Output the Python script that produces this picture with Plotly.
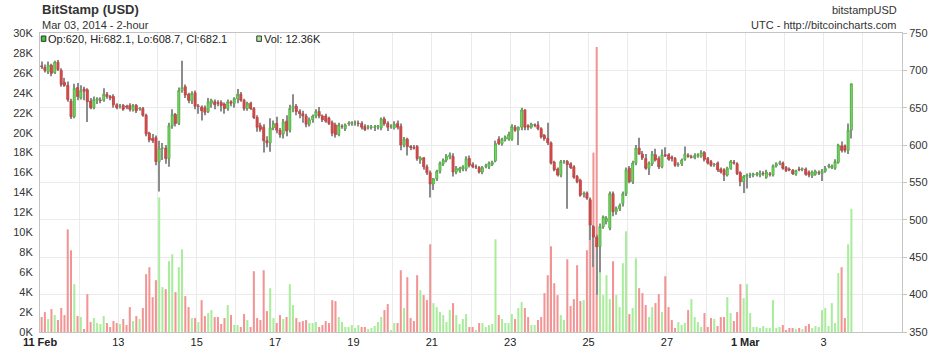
import pandas as pd
import plotly.graph_objects as go

# ---------------- data (2-hour candles, BitStamp USD, 11 Feb - 3 Mar 2014) ----------------
open_ = [
    706,704,698,707,697,711,700,684,680,659,638,677,
    663,675,674,659,650,660,660,660,668,665,665,654,
    652,653,652,653,647,653,649,649,640,616,609,610,
    578,596,596,582,626,641,629,673,678,668,659,670,
    652,651,650,645,656,658,657,657,655,649,658,656,
    662,668,660,649,656,649,637,626,624,606,603,623,
    629,620,615,632,620,649,652,645,642,639,628,634,
    639,645,639,639,636,630,627,614,625,622,629,629,
    630,629,629,625,624,624,624,624,623,635,629,625,
    623,629,625,600,608,598,597,598,580,583,571,563,
    548,555,565,575,580,584,585,564,566,568,568,582,
    574,571,570,564,572,571,574,579,608,602,608,608,
    608,624,620,624,647,626,624,627,627,622,613,609,
    603,577,568,560,578,578,575,571,558,553,535,536,
    527,491,477,464,491,498,489,535,511,515,522,535,
    569,551,576,596,588,582,569,575,587,582,571,587,
    587,584,582,574,575,581,586,584,583,586,585,590,
    582,578,574,576,568,567,560,569,577,575,563,551,
    558,560,560,561,560,562,557,561,560,572,576,576,
    570,568,566,561,568,568,568,564,559,561,563,562,
    565,572,570,569,577,599,599,593,620,
]
high = [
    712,708,712,709,713,714,703,690,685,662,682,683,
    680,678,676,663,665,664,664,676,671,667,668,656,
    655,655,654,656,655,655,651,651,642,618,615,613,
    606,603,600,630,648,643,677,713,681,670,672,673,
    655,653,653,663,662,661,660,660,657,661,660,664,
    675,671,662,658,658,651,640,630,628,612,636,633,
    638,623,635,640,654,668,655,648,646,642,637,641,
    648,651,641,642,638,633,630,630,628,629,632,632,
    633,633,632,628,627,627,627,627,637,638,632,628,
    632,633,629,611,610,600,600,600,585,584,574,566,
    556,567,578,582,588,590,589,572,571,573,585,586,
    577,574,572,572,575,578,579,606,612,610,613,618,
    628,627,625,650,648,628,630,629,632,624,615,630,
    605,579,570,580,580,580,577,573,560,555,538,538,
    530,493,480,495,506,505,538,538,518,522,538,570,
    572,579,600,610,592,588,578,592,595,585,594,597,
    589,586,584,577,582,598,589,587,589,589,593,592,
    584,580,576,578,570,569,571,580,580,577,565,560,
    562,563,563,564,566,565,567,564,574,577,579,578,
    572,570,568,567,571,570,570,566,566,567,566,568,
    572,575,574,581,602,605,601,629,682.1,
]
low = [
    702,697,695,692,695,699,678,678,658,635,636,660,
    661,660,631,648,648,655,656,658,662,660,650,648,
    649,646,648,645,645,643,646,638,612,604,603,573,
    538,580,575,571,622,625,627,670,663,656,655,648,
    642,633,640,643,650,648,652,645,642,646,652,650,
    656,658,646,646,647,635,618,618,590,597,591,620,
    616,610,609,612,617,644,640,636,630,624,625,630,
    636,636,631,630,627,612,610,612,622,619,626,626,
    626,625,621,619,621,621,619,621,620,626,619,622,
    621,621,593,597,586,593,594,579,575,567,560,530,
    540,552,562,572,577,581,558,561,563,565,565,570,
    569,568,562,561,569,568,572,577,600,599,605,606,
    606,618,600,620,620,620,622,624,620,609,606,600,
    574,565,558,557,575,515,568,555,549,531,530,527,
    473,437,400,430,488,494,486,505,507,512,518,532,
    549,548,573,587,580,567,560,572,578,568,569,584,
    579,578,571,571,572,579,583,582,581,583,583,578,
    574,571,571,564,562,552,558,567,574,560,545,536,
    542,556,557,558,557,559,555,558,558,570,573,567,
    564,565,560,559,565,565,559,557,556,559,560,552,
    563,569,568,567,575,590,590,588,608.7,
]
close = [
    705,700,707,696,711,701,681,680,661,638,676,665,
    673,672,658,650,661,662,660,668,665,663,654,650,
    652,648,651,648,653,646,649,640,615,607,606,578,
    596,596,582,626,641,629,673,677,667,660,669,652,
    652,646,644,658,660,654,656,653,649,658,656,662,
    668,660,649,656,649,637,624,621,606,603,623,629,
    620,614,631,619,649,652,645,642,639,628,634,639,
    645,639,634,632,629,616,614,627,625,627,629,630,
    630,629,624,621,624,624,624,625,635,629,624,625,
    628,624,600,608,598,597,596,582,583,571,563,548,
    555,565,576,580,585,587,564,569,569,571,582,573,
    571,571,564,570,572,576,577,602,602,608,611,614,
    625,620,624,647,624,624,628,627,622,611,609,603,
    576,567,560,578,578,574,570,557,551,533,535,529,
    493,477,464,491,504,502,535,511,515,519,535,567,
    551,576,596,588,583,569,576,588,580,571,587,586,
    581,582,573,574,580,588,585,584,586,587,590,581,
    576,573,574,567,564,560,569,578,576,562,551,558,
    560,560,561,561,563,562,564,561,572,575,576,569,
    566,567,562,566,567,568,561,560,564,565,563,565,
    569,572,572,578,600,593,593,620,682.1,
]
volume_k = [
    1.5,2.0,1.3,2.3,1.7,1.2,2.4,1.7,10.3,8.2,4.8,1.6,
    1.5,0.3,3.8,1.0,1.4,0.9,0.8,1.6,0.9,0.5,1.1,0.9,
    0.8,1.3,0.7,2.5,1.1,1.6,1.3,2.4,5.8,6.5,3.5,5.2,
    13.5,4.5,4.3,7.1,7.8,4.0,6.5,8.3,3.6,2.5,1.4,1.4,
    1.0,3.2,1.6,1.9,2.2,1.5,1.5,0.8,1.4,2.7,1.7,0.7,
    0.7,0.5,1.8,1.2,0.5,6.1,1.4,1.2,6.2,2.1,4.4,1.4,
    0.9,1.7,1.3,1.5,4.8,2.7,1.4,1.0,1.1,1.2,0.9,0.9,
    1.0,0.5,0.7,1.1,0.9,3.2,3.1,1.5,1.0,0.5,0.5,0.7,
    0.4,0.7,0.5,0.5,0.3,0.4,0.6,1.0,1.5,2.2,2.8,0.2,
    0.9,0.9,6.2,2.4,5.5,1.4,1.1,5.7,4.2,3.7,3.2,8.8,
    2.9,2.5,2.0,1.7,1.0,2.2,2.9,1.7,0.8,1.3,1.8,0.5,
    0.5,0.2,0.9,0.9,0.5,0.7,0.8,9.3,1.7,1.3,0.9,0.9,
    1.8,1.3,2.4,3.0,2.4,1.5,0.7,0.7,1.2,1.5,3.9,5.7,
    8.6,4.9,3.7,1.7,1.2,7.3,2.6,3.3,6.7,3.1,3.2,8.2,
    9.3,18.0,28.6,8.6,3.7,5.7,3.3,7.1,3.7,2.5,6.9,10.1,
    1.8,2.4,7.4,4.4,3.9,2.7,1.5,2.5,2.9,3.8,2.0,5.6,
    2.5,1.2,0.4,1.0,0.7,0.9,2.2,3.3,1.5,1.0,0.5,1.9,
    0.5,1.4,1.3,0.6,1.5,1.5,3.5,1.9,1.1,2.0,4.8,3.4,
    4.8,1.9,0.5,0.5,0.4,0.6,0.4,0.4,3.2,0.4,0.5,0.7,
    0.2,0.4,0.4,0.3,0.4,0.3,0.6,0.8,0.4,0.6,0.5,2.2,
    2.4,0.6,2.9,0.9,5.9,6.5,1.4,8.8,12.36,
]

tick_dates = ["2014-02-11", "2014-02-13", "2014-02-15", "2014-02-17", "2014-02-19",
              "2014-02-21", "2014-02-23", "2014-02-25", "2014-02-27", "2014-03-01", "2014-03-03"]
tick_text = ["<b>11 Feb</b>", "13", "15", "17", "19", "21", "23", "25", "27", "<b>1 Mar</b>", "3"]
vol_ticks = list(range(0, 31, 2))
vol_tick_text = [f"{v}K" for v in vol_ticks]
price_ticks = list(range(350, 751, 50))

# candle centre times (each 2-hour period, centred)
times = pd.date_range("2014-02-11 01:00", periods=len(close), freq="2h")

GREEN_BODY, GREEN_EDGE = "#72d463", "#52b043"
RED_BODY, RED_EDGE = "#d44a4a", "#c24646"
VOL_GREEN, VOL_RED = "#a9ec9b", "#f29494"
WICK = "#8c8c8c"
GRID = "#ebebeb"
FRAME = "#c4c4c4"

rising = [c >= o for o, c in zip(open_, close)]
vol_colors = [VOL_GREEN if r else VOL_RED for r in rising]
body_top = [max(o, c) for o, c in zip(open_, close)]
body_bot = [min(o, c) for o, c in zip(open_, close)]
wick_len = [h - l for h, l in zip(high, low)]

TWO_H = 2 * 3600 * 1000

fig = go.Figure()
fig.add_trace(go.Bar(
    x=times, y=volume_k, yaxis="y", marker=dict(color=vol_colors, line=dict(width=0)),
    width=TWO_H * 0.62, hoverinfo="skip", name="Vol",
))
fig.add_trace(go.Bar(
    x=times, y=wick_len, base=low, yaxis="y2", marker=dict(color=WICK, line=dict(width=0)),
    width=TWO_H * 0.32, hoverinfo="skip", name="range",
))
fig.add_trace(go.Candlestick(
    x=times, open=open_, high=body_top, low=body_bot, close=close, yaxis="y2",
    increasing=dict(fillcolor=GREEN_BODY, line=dict(color=GREEN_EDGE, width=0.8)),
    decreasing=dict(fillcolor=RED_BODY, line=dict(color=RED_EDGE, width=0.8)),
    whiskerwidth=0, name="price",
))

FONT = "Liberation Sans, Arial, Helvetica, sans-serif"

last = len(close) - 1
ohlc_text = f"Op:{open_[last]:g}, Hi:{high[last]:g}, Lo:{low[last]:g}, Cl:{close[last]:g}"
vol_text = f"Vol: {volume_k[last]:g}K"

annotations = [
    dict(text="<b>BitStamp (USD)</b>", x=0, y=1.077, xref="paper", yref="paper",
         xanchor="left", yanchor="middle", showarrow=False, font=dict(size=13, color="#333")),
    dict(text="Mar 03, 2014 - 2-hour", x=0, y=1.027, xref="paper", yref="paper",
         xanchor="left", yanchor="middle", showarrow=False, font=dict(size=11, color="#333")),
    dict(text="bitstampUSD", x=0.9965, y=1.077, xref="paper", yref="paper",
         xanchor="right", yanchor="middle", showarrow=False, font=dict(size=11, color="#333")),
    dict(text="UTC - http://bitcoincharts.com", x=0.9965, y=1.027, xref="paper", yref="paper",
         xanchor="right", yanchor="middle", showarrow=False, font=dict(size=11, color="#333")),
    dict(text=ohlc_text, x=0.0075, y=0.981, xref="paper", yref="paper",
         xanchor="left", yanchor="middle", showarrow=False, font=dict(size=11, color="#222")),
    dict(text=vol_text, x=0.2575, y=0.981, xref="paper", yref="paper",
         xanchor="left", yanchor="middle", showarrow=False, font=dict(size=11, color="#222")),
]
shapes = [
    dict(type="rect", xref="paper", yref="paper", x0=0.0015, x1=0.0068, y0=0.972, y1=0.990,
         fillcolor="#38c838", line=dict(color="#333", width=1)),
    dict(type="rect", xref="paper", yref="paper", x0=0.2515, x1=0.2568, y0=0.972, y1=0.990,
         fillcolor="#a9ec9b", line=dict(color="#333", width=1)),
]

fig.update_layout(
    width=940, height=348,
    margin=dict(l=40, r=38, t=33, b=16, autoexpand=False),
    paper_bgcolor="white", plot_bgcolor="white",
    showlegend=False, barmode="overlay", boxgap=0.08,
    font=dict(family=FONT, size=11, color="#333"),
    annotations=annotations, shapes=shapes,
    xaxis=dict(
        type="date", range=["2014-02-11", "2014-03-05"], automargin=False,
        tickmode="array", tickvals=tick_dates, ticktext=tick_text,
        showgrid=True, gridcolor=GRID, gridwidth=1,
        minor=dict(dtick=86400000, tick0="2014-02-11", showgrid=True, gridcolor=GRID, gridwidth=1),
        showline=True, linecolor=FRAME, mirror=True, ticks="", zeroline=False,
        rangeslider=dict(visible=False), tickfont=dict(size=11, color="#222"),
    ),
    yaxis=dict(
        range=[0, 30], tickmode="array", tickvals=vol_ticks, ticktext=vol_tick_text,
        showgrid=False, zeroline=False, showline=True, linecolor=FRAME, ticks="",
        automargin=False, ticklabelstandoff=4, tickfont=dict(size=11, color="#333"),
    ),
    yaxis2=dict(
        overlaying="y", side="right", range=[350, 750], tickmode="array", tickvals=price_ticks,
        showgrid=True, gridcolor=GRID, zeroline=False, showline=True, linecolor=FRAME,
        automargin=False, ticks="outside", ticklen=4, tickcolor=FRAME,
        tickfont=dict(size=11, color="#333"),
    ),
)

fig.write_html("out.html")
